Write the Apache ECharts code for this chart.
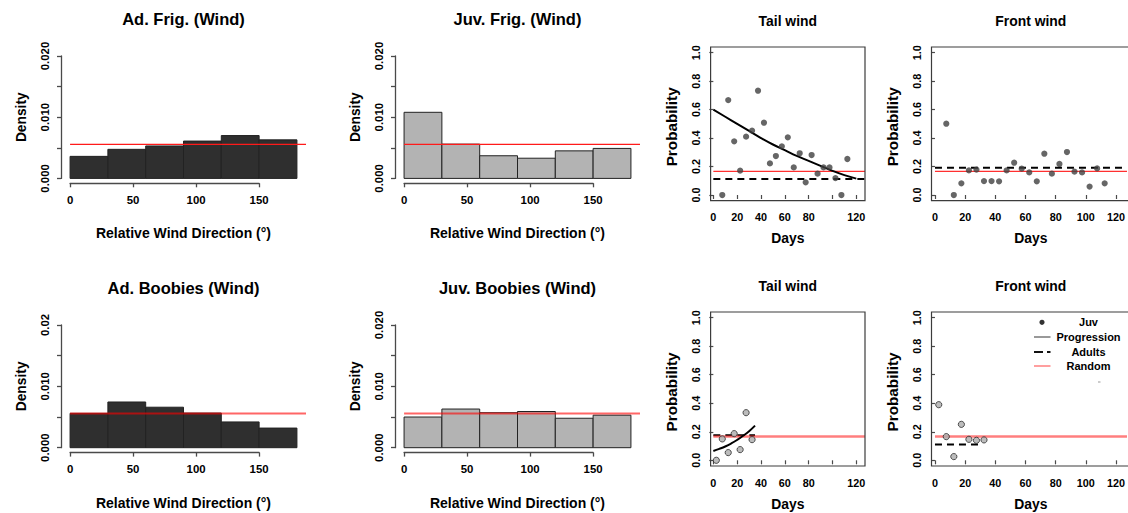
<!DOCTYPE html>
<html><head><meta charset="utf-8">
<script src="https://cdn.jsdelivr.net/npm/echarts@6/dist/echarts.min.js"></script>
<style>html,body{margin:0;padding:0;background:#fff;}#c{width:1128px;height:513px;}</style>
</head><body><div id="c"></div>
<script>
// ================= DATA =================
// Histograms (density per 30-degree bin)
const binEdges = [0, 30, 60, 90, 120, 150, 180];
const adFrigDensity = [0.0036, 0.00475, 0.0053, 0.0061, 0.0070, 0.0063];
const juvFrigDensity = [0.0108, 0.0056, 0.0037, 0.0033, 0.0045, 0.0049];
const adBoobiesDensity = [0.0056, 0.00745, 0.0066, 0.00565, 0.0042, 0.0032];
const juvBoobiesDensity = [0.0050, 0.0063, 0.0057, 0.0059, 0.0048, 0.0053];
const uniformDensity = 0.00556;
const histXTicks = [0, 50, 100, 150];
const histYTicks = [0, 0.005, 0.010, 0.015, 0.020];
const histYLabelValues = [0, 0.010, 0.020];
const histYLabels = ['0.000', '0.010', '0.020'];
const adBoobiesYLabels = ['0.000', '0.010', '0.02'];

// Frigatebird juveniles (top row scatter)
const frigTailDays = [7.5, 12.5, 17.5, 22.5, 27.5, 32.5, 37.5, 42.5, 47.5, 52.5, 57.5, 62.5, 67.5, 72.5, 77.5, 82.5, 87.5, 92.5, 97.5, 102.5, 107.5, 112.5];
const frigTailProb = [0.0, 0.667, 0.377, 0.171, 0.41, 0.452, 0.733, 0.508, 0.222, 0.274, 0.342, 0.405, 0.194, 0.293, 0.089, 0.281, 0.15, 0.194, 0.194, 0.119, 0.0, 0.253];
const frigTailFitDays = [0, 10, 20, 30, 40, 50, 60, 70, 80, 90, 100, 110, 120];
const frigTailFitProb = [0.60, 0.55, 0.50, 0.45, 0.40, 0.355, 0.315, 0.275, 0.24, 0.205, 0.17, 0.14, 0.115];
const frigTailAdults = 0.112;
const frigFrontDays = [7.5, 12.5, 17.5, 22.5, 27.5, 32.5, 37.5, 42.5, 47.5, 52.5, 57.5, 62.5, 67.5, 72.5, 77.5, 82.5, 87.5, 92.5, 97.5, 102.5, 107.5, 112.5];
const frigFrontProb = [0.501, 0.0, 0.082, 0.173, 0.178, 0.098, 0.098, 0.096, 0.173, 0.227, 0.185, 0.159, 0.096, 0.29, 0.15, 0.218, 0.302, 0.164, 0.159, 0.059, 0.187, 0.082];
const frigFrontAdults = 0.192;

// Booby juveniles (bottom row scatter)
const boobTailDays = [2.5, 7.5, 12.5, 17.5, 22.5, 27.5, 32.5];
const boobTailProb = [0.0, 0.15, 0.054, 0.187, 0.075, 0.334, 0.145];
const boobTailFitDays = [0, 5, 10, 15, 20, 25, 30, 35];
const boobTailFitProb = [0.065, 0.08, 0.097, 0.118, 0.143, 0.172, 0.204, 0.243];
const boobTailAdults = 0.175;
const boobTailAdultsSpan = [0, 35];
const boobFrontDays = [2.5, 7.5, 12.5, 17.5, 22.5, 27.5, 32.5];
const boobFrontProb = [0.39, 0.166, 0.026, 0.252, 0.147, 0.14, 0.143];
const boobFrontAdults = 0.11;
const boobFrontAdultsSpan = [0, 30];
const randomProb = 0.1667;

const dayTicks = [0, 20, 40, 60, 80, 100, 120];
const tailDayLabels = [0, 20, 40, 60, 80, 120];
const frontDayLabels = [0, 20, 40, 60, 80, 100, 120];
const probTicks = [0, 0.2, 0.4, 0.6, 0.8, 1.0];

const legendLabels = ['Juv', 'Progression', 'Adults', 'Random'];

// ================= LAYOUT / STYLE =================
const FONT = '"Liberation Sans", Arial, Helvetica, sans-serif';
const AXIS_COL = '#4a4a4a';
const HX = [-7.2, 187.2];          // histogram x range (R 4% padding)
const HY = [-0.0008, 0.0208];      // histogram y range
const SX = [-2.3, 127.3];          // scatter x range
const SY = [-0.04, 1.04];          // scatter y range

const grids = [
  {left: 61,    top: 51.1, width: 245,   height: 132.2}, // Ad. Frig
  {left: 395,   top: 51.1, width: 245,   height: 132.2}, // Juv. Frig
  {left: 710.6, top: 47,   width: 154.4, height: 153.7}, // Tail top
  {left: 931.5, top: 47,   width: 198.7, height: 153.7}, // Front top
  {left: 61,    top: 320.1, width: 245,  height: 132.5}, // Ad. Boobies
  {left: 395,   top: 320.1, width: 245,  height: 132.5}, // Juv. Boobies
  {left: 710.6, top: 312,  width: 154.4, height: 154},   // Tail bottom
  {left: 931.5, top: 312,  width: 198.7, height: 154}    // Front bottom
];
const isScatter = [false, false, true, true, false, false, true, true];

function labelLookup(values, labels) {
  return function (v) {
    for (let i = 0; i < values.length; i++) if (Math.abs(values[i] - v) < 1e-9) return labels[i];
    return '';
  };
}

const allGrids = grids.map(g => Object.assign({containLabel: false}, g));
const xAxes = [], yAxes = [];
const hidden = {axisLine: {show: false}, axisTick: {show: false}, axisLabel: {show: false}, splitLine: {show: false}};
const histAxisDefs = [];
grids.forEach((g, i) => {
  if (!isScatter[i]) {
    // data axes of the histogram plot region (hidden; R draws its axes over the tick range only)
    xAxes.push(Object.assign({gridIndex: i, type: 'value', min: HX[0], max: HX[1]}, hidden));
    yAxes.push(Object.assign({gridIndex: i, type: 'value', min: HY[0], max: HY[1]}, hidden));
    histAxisDefs.push(i);
  } else {
    const labs = (i === 2 || i === 6) ? tailDayLabels : frontDayLabels;
    xAxes.push({
      gridIndex: i, type: 'value', min: SX[0], max: SX[1],
      axisLine: {show: false}, splitLine: {show: false},
      axisTick: {show: true, length: 4, customValues: dayTicks, lineStyle: {color: AXIS_COL, width: 1.2}},
      axisLabel: {customValues: labs, fontFamily: FONT, fontWeight: 'bold', fontSize: 10.8, color: '#000', margin: 11}
    });
    yAxes.push({
      gridIndex: i, type: 'value', min: SY[0], max: SY[1],
      axisLine: {show: false}, splitLine: {show: false},
      axisTick: {show: true, length: 4, customValues: probTicks, lineStyle: {color: AXIS_COL, width: 1.2}},
      axisLabel: {customValues: probTicks, rotate: 90, fontFamily: FONT, fontWeight: 'bold', fontSize: 10.8, color: '#000', margin: 9.5,
        formatter: v => v.toFixed(1)}
    });
  }
});
// Visible histogram axes: an extra grid spanning exactly the tick range, axes offset to the plot-region edge
histAxisDefs.forEach(i => {
  const g = grids[i];
  const x0 = histXTicks[0], x1 = histXTicks[histXTicks.length - 1];
  const y0 = histYTicks[0], y1 = histYTicks[histYTicks.length - 1];
  const sx = g.width / (HX[1] - HX[0]), sy = g.height / (HY[1] - HY[0]);
  const gi = allGrids.length;
  allGrids.push({containLabel: false,
    left: g.left + (x0 - HX[0]) * sx, width: (x1 - x0) * sx,
    top: g.top + (HY[1] - y1) * sy, height: (y1 - y0) * sy});
  xAxes.push({
    gridIndex: gi, type: 'value', min: x0, max: x1, position: 'bottom', offset: (y0 - HY[0]) * sy,
    axisLine: {show: true, onZero: false, lineStyle: {color: AXIS_COL, width: 1.3}}, splitLine: {show: false},
    axisTick: {show: true, length: 4, customValues: histXTicks, lineStyle: {color: AXIS_COL, width: 1.3}},
    axisLabel: {customValues: histXTicks, fontFamily: FONT, fontWeight: 'bold', fontSize: 11.4, color: '#000', margin: 11}
  });
  yAxes.push({
    gridIndex: gi, type: 'value', min: y0, max: y1, position: 'left', offset: (x0 - HX[0]) * sx,
    axisLine: {show: true, onZero: false, lineStyle: {color: AXIS_COL, width: 1.3}}, splitLine: {show: false},
    axisTick: {show: true, length: 4, customValues: histYTicks, lineStyle: {color: AXIS_COL, width: 1.3}},
    axisLabel: {customValues: histYLabelValues, rotate: 90, fontFamily: FONT, fontWeight: 'bold', fontSize: 11.4, color: '#000', margin: 10.5,
      formatter: labelLookup(histYLabelValues, i === 4 ? adBoobiesYLabels : histYLabels)}
  });
});

const series = [];
function histSeries(idx, dens, fill, redColor, redWidth) {
  const data = dens.map((d, k) => [binEdges[k], binEdges[k + 1], d]);
  series.push({
    type: 'custom', xAxisIndex: idx, yAxisIndex: idx, data: data, encode: {x: [0, 1], y: 2},
    renderItem: function (params, api) {
      const p0 = api.coord([api.value(0), 0]);
      const p1 = api.coord([api.value(1), api.value(2)]);
      return {type: 'rect', shape: {x: p0[0], y: p1[1], width: p1[0] - p0[0], height: p0[1] - p1[1]},
        style: {fill: fill, stroke: '#222', lineWidth: 1}};
    }, silent: true, z: 2
  });
  // uniform density reference
  series.push({type: 'line', xAxisIndex: idx, yAxisIndex: idx, symbol: 'none', silent: true,
    data: [[0, uniformDensity], [HX[1], uniformDensity]], lineStyle: {color: redColor, width: redWidth}, z: 4});
}
histSeries(0, adFrigDensity, '#2f2f2f', '#ff1a1a', 1.2);
histSeries(1, juvFrigDensity, '#b3b3b3', '#ff1a1a', 1.2);
histSeries(4, adBoobiesDensity, '#2f2f2f', 'rgba(255,0,0,0.6)', 2);
histSeries(5, juvBoobiesDensity, '#b3b3b3', 'rgba(255,0,0,0.6)', 2);

function hline(idx, y, x0, x1, color, width, dash, z) {
  series.push({type: 'line', xAxisIndex: idx, yAxisIndex: idx, symbol: 'none', silent: true,
    data: [[x0, y], [x1, y]], lineStyle: {color: color, width: width, type: dash || 'solid'}, z: z || 3});
}
function pts(idx, xs, ys, style) {
  series.push({type: 'scatter', xAxisIndex: idx, yAxisIndex: idx, symbol: 'circle', symbolSize: 6.2, silent: true,
    data: xs.map((x, k) => [x, ys[k]]), itemStyle: style, z: 6});
}
function curve(idx, xs, ys) {
  series.push({type: 'line', xAxisIndex: idx, yAxisIndex: idx, symbol: 'none', smooth: true, silent: true,
    data: xs.map((x, k) => [x, ys[k]]), lineStyle: {color: '#000', width: 2}, z: 5});
}
const darkPt = {color: '#404040'};
const greyPt = {color: '#ababab', borderColor: '#2a2a2a', borderWidth: 1};

// top tail wind
hline(2, randomProb, 0, SX[1], '#ff3030', 1.2, 'solid', 3);
hline(2, frigTailAdults, 0, SX[1], '#000', 2, [7, 5], 4);
curve(2, frigTailFitDays, frigTailFitProb);
pts(2, frigTailDays, frigTailProb, darkPt);
// top front wind
hline(3, randomProb, 0, SX[1], '#ff3030', 1.2, 'solid', 3);
hline(3, frigFrontAdults, 0, SX[1], '#000', 2, [7, 5], 4);
pts(3, frigFrontDays, frigFrontProb, darkPt);
// bottom tail wind
hline(6, boobTailAdults, boobTailAdultsSpan[0], boobTailAdultsSpan[1], '#000', 2, [7, 5], 3);
hline(6, randomProb, 0, SX[1], 'rgba(255,40,40,0.6)', 2.5, 'solid', 4);
curve(6, boobTailFitDays, boobTailFitProb);
pts(6, boobTailDays, boobTailProb, greyPt);
// bottom front wind
hline(7, boobFrontAdults, boobFrontAdultsSpan[0], boobFrontAdultsSpan[1], '#000', 2, [7, 5], 3);
hline(7, randomProb, 0, SX[1], 'rgba(255,40,40,0.6)', 2.5, 'solid', 4);
pts(7, boobFrontDays, boobFrontProb, greyPt);

// ================= TEXT (titles, axis names, legend) =================
const titles = ['Ad. Frig. (Wind)', 'Juv. Frig. (Wind)', 'Tail wind', 'Front wind', 'Ad. Boobies (Wind)', 'Juv. Boobies (Wind)', 'Tail wind', 'Front wind'];
const xNames = ['Relative Wind Direction (°)', 'Relative Wind Direction (°)', 'Days', 'Days', 'Relative Wind Direction (°)', 'Relative Wind Direction (°)', 'Days', 'Days'];
const yNames = ['Density', 'Density', 'Probability', 'Probability', 'Density', 'Density', 'Probability', 'Probability'];
const titleY = [19, 19, 20.5, 20.5, 288, 288, 285.5, 285.5];
const xNameY = [232.5, 232.5, 238.3, 238.3, 502.5, 502.5, 504, 504];

function txt(text, x, y, size, rot, extra) {
  return Object.assign({type: 'text', x: x, y: y, rotation: rot || 0, silent: true,
    style: {text: text, font: 'bold ' + size + 'px ' + FONT, fill: '#000',
      textAlign: 'center', textVerticalAlign: 'middle', align: 'center', verticalAlign: 'middle'}}, extra || {});
}
const graphics = [];
grids.forEach((g, i) => {
  const cx = g.left + g.width / 2;
  const cy = g.top + g.height / 2;
  const sc = isScatter[i];
  const cxTitle = (i === 3 || i === 7) ? 1030.8 : cx;
  graphics.push(txt(titles[i], cxTitle, titleY[i], sc ? 13.9 : 16.5));
  graphics.push(txt(xNames[i], cxTitle, xNameY[i], sc ? 13.9 : 14));
  graphics.push(txt(yNames[i], g.left - (sc ? 39.5 : 40), cy + (sc ? 3 : 0), sc ? 15.3 : 13.8, Math.PI / 2));
  if (sc) {
    // plot box
    graphics.push({type: 'rect', silent: true, shape: {x: g.left, y: g.top, width: g.width, height: g.height},
      style: {fill: 'none', stroke: '#3c3c3c', lineWidth: 1.2}, z: 10});
  }
});
// legend (bottom front wind)
const legX0 = 1034, legX1 = 1050.5, legTextX = 1088.5;
const legY = [322.3, 337, 352, 366];
graphics.push({type: 'circle', silent: true, shape: {cx: 1042, cy: legY[0], r: 2.6}, style: {fill: '#333'}, z: 20});
graphics.push({type: 'line', silent: true, shape: {x1: legX0, y1: legY[1], x2: legX1, y2: legY[1]}, style: {stroke: '#777', lineWidth: 1.5}, z: 20});
graphics.push({type: 'line', silent: true, shape: {x1: legX0, y1: legY[2], x2: legX1, y2: legY[2]}, style: {stroke: '#111', lineWidth: 2, lineDash: [9, 4]}, z: 20});
graphics.push({type: 'line', silent: true, shape: {x1: legX0, y1: legY[3], x2: legX1, y2: legY[3]}, style: {stroke: 'rgba(255,40,40,0.6)', lineWidth: 1.5}, z: 20});
legendLabels.forEach((t, k) => graphics.push(txt(t, legTextX, legY[k], 11, 0, {z: 20})));
graphics.push({type: 'line', silent: true, shape: {x1: 1098, y1: 382, x2: 1100.5, y2: 382}, style: {stroke: '#999', lineWidth: 1}, z: 20});

const chart = echarts.init(document.getElementById('c'), null, {renderer: 'svg'});
chart.setOption({
  animation: false,
  backgroundColor: '#fff',
  grid: allGrids,
  xAxis: xAxes,
  yAxis: yAxes,
  series: series,
  graphic: {elements: graphics}
});
</script>
</body></html>
